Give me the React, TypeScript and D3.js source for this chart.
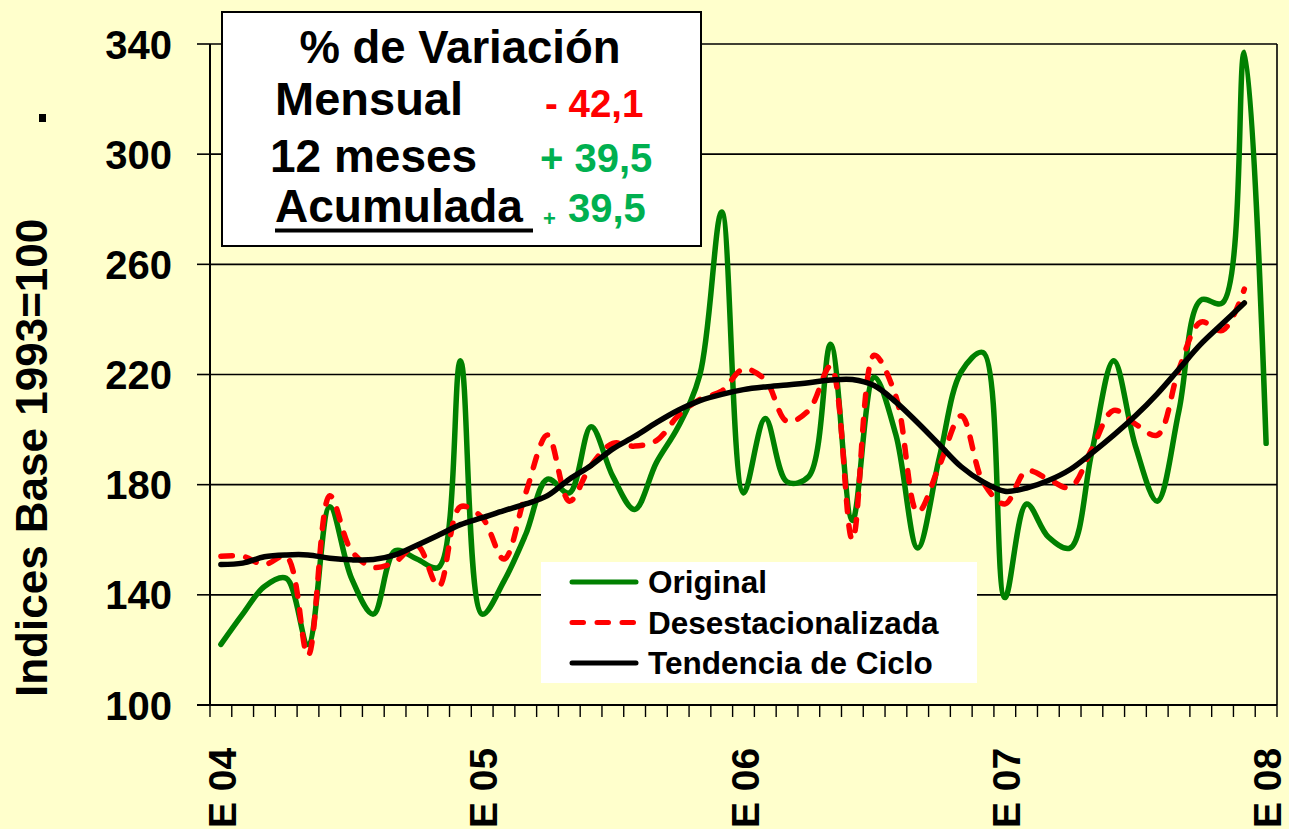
import React from "react";
import * as d3 from "d3";

const months = ["E", "F", "M", "A", "M", "J", "J", "A", "S", "O", "N", "D"];
const years = ["04", "05", "06", "07", "08"];
const categories: string[] = [];
years.forEach((yy, k) => {
  months.forEach((m) => {
    if (k < 4 || m === "E") {
      if (categories.length < 49) categories.push(`${m} ${yy}`);
    }
  });
});

const original = [
  122, 133, 143, 146, 122, 172, 146, 133, 156, 153, 150, 225,
  133, 145, 162, 182, 177, 201, 183, 171, 188, 201, 220, 279,
  177, 204, 181, 183, 231, 167, 219, 198, 157, 190, 221, 228,
  139, 173, 161, 157, 192, 225, 194, 174, 207, 247, 246, 337,
  195,
];
const desestacionalizada = [
  154, 154, 151, 154, 118, 176, 156, 150, 152, 158, 143, 172,
  168, 153, 177, 198, 174, 187, 195, 194, 196, 205, 211, 214,
  222, 218, 203, 207, 223, 160, 227, 212, 170, 187, 205, 181,
  173, 185, 182, 179, 193, 207, 202, 198, 222, 239, 236, 251,
];
const tendencia = [
  151, 151.5, 153.8, 154.5, 154.5, 153.3, 152.7, 152.8, 154.5, 158, 161.7, 165.5,
  168, 170.6, 173, 176, 182, 187, 193, 197.5, 202.5, 207, 210.5, 212.8,
  214.5, 215.5, 216.2, 217, 218, 218.2, 216, 210, 202.5, 194.5, 186.5, 181,
  177.6, 178.8, 181.5, 185.5, 191.5, 198, 205, 213, 222, 231, 238.5, 246,
];
const yTicks = [100, 140, 180, 220, 260, 300, 340];

const boxTitle = "% de Variación";
const boxRows = [
  { label: "Mensual", sign: "-", value: "42,1", color: "#FF0000" },
  { label: "12 meses", sign: "+", value: "39,5", color: "#00B050" },
  { label: "Acumulada", sign: "+", value: "39,5", color: "#00B050" },
];
const legendItems = [
  { name: "Original", color: "#008000", dash: "" },
  { name: "Desestacionalizada", color: "#FF0000", dash: "11.5 13.5" },
  { name: "Tendencia de Ciclo", color: "#000000", dash: "" },
];

const W = 1289;
const H = 829;
const L = 210;
const R = 1277;
const T = 44;
const B = 705;
const FONT = "'Liberation Sans', Arial, Helvetica, sans-serif";

export default function App() {
  const x = d3.scaleBand<number>().domain(d3.range(categories.length)).range([L, R]).padding(0);
  const bw = x.bandwidth();
  const cx = (i: number) => (x(i) as number) + bw / 2;
  const y = d3.scaleLinear().domain([100, 340]).range([B, T]);

  const line = d3
    .line<number>()
    .x((_, i) => cx(i))
    .y((d) => y(d))
    .curve(d3.curveCatmullRom.alpha(0.5));

  const series = [
    { data: original, color: "#008000", dash: "" },
    { data: desestacionalizada, color: "#FF0000", dash: "11.5 13.5" },
    { data: tendencia, color: "#000000", dash: "" },
  ];

  const tickXs = d3.range(categories.length + 1).map((k) => L + k * bw);

  return (
    <svg
      width={W}
      height={H}
      style={{ position: "absolute", left: 0, top: 0, display: "block" }}
      fontFamily={FONT}
      fontWeight="bold"
    >
      <rect x={0} y={0} width={W} height={H} fill="#FFFFCC" />

      {/* gridlines */}
      {yTicks
        .filter((t) => t !== 100)
        .map((t) => (
          <line key={t} x1={L} x2={R} y1={y(t)} y2={y(t)} stroke="#000" strokeWidth={1.6} />
        ))}
      <line x1={R} x2={R} y1={T} y2={B} stroke="#000" strokeWidth={1.6} />

      {/* y axis */}
      <line x1={L} x2={L} y1={T} y2={B} stroke="#000" strokeWidth={2} />
      {yTicks.map((t) => (
        <g key={t}>
          <line x1={L - 13} x2={L} y1={y(t)} y2={y(t)} stroke="#000" strokeWidth={1.6} />
          <text x={172} y={y(t) + 14.5} textAnchor="end" fontSize={40} fill="#000">
            {t}
          </text>
        </g>
      ))}

      {/* x axis */}
      <line x1={L - 13} x2={R} y1={B} y2={B} stroke="#000" strokeWidth={2} />
      {tickXs.map((tx, k) => (
        <line key={k} x1={tx} x2={tx} y1={B} y2={B + 12} stroke="#000" strokeWidth={1.4} />
      ))}
      {categories.map((c, i) =>
        c.startsWith("E ") ? (
          <text
            key={c}
            transform={`translate(${cx(i) + 15},${H - 1}) rotate(-90)`}
            textAnchor="start"
            fontSize={39}
            fill="#000"
          >
            {c}
          </text>
        ) : null
      )}

      {/* y title */}
      <text transform={`translate(47,697) rotate(-90)`} textAnchor="start" fontSize={44} fill="#000">
        Indices Base 1993=100
      </text>
      <rect x={39} y={114} width={7} height={8} fill="#000" />

      {/* series */}
      {series.map((s, k) => (
        <path
          key={k}
          d={line(s.data) as string}
          fill="none"
          stroke={s.color}
          strokeWidth={5.5}
          strokeDasharray={s.dash || undefined}
          strokeLinecap="round"
          strokeLinejoin="round"
        />
      ))}

      {/* variation box */}
      <rect x={222} y={12} width={479} height={234} fill="#FFFFFF" stroke="#000" strokeWidth={2} />
      <text x={460} y={63} textAnchor="middle" fontSize={45.5} fill="#000">
        {boxTitle}
      </text>
      <text x={275} y={115} fontSize={47} fill="#000">
        {boxRows[0].label}
      </text>
      <text x={545} y={117} fontSize={38.5} fill={boxRows[0].color}>
        {`${boxRows[0].sign} ${boxRows[0].value}`}
      </text>
      <text x={270} y={172} fontSize={46} fill="#000">
        {boxRows[1].label}
      </text>
      <text x={540} y={172} fontSize={40} fill={boxRows[1].color}>
        {`${boxRows[1].sign} ${boxRows[1].value}`}
      </text>
      <text x={275} y={222} fontSize={46} fill="#000">
        {boxRows[2].label}
      </text>
      <rect x={275} y={228.5} width={258} height={4} fill="#000" />
      <text x={543} y={226} fontSize={22} fill={boxRows[2].color}>
        {boxRows[2].sign}
      </text>
      <text x={568} y={222} fontSize={40} fill={boxRows[2].color}>
        {boxRows[2].value}
      </text>

      {/* legend */}
      <rect x={541} y={562} width={436} height={121} fill="#FFFFFF" />
      {legendItems.map((it, k) => {
        const ly = 582 + k * 40.5;
        return (
          <g key={it.name}>
            <line
              x1={572}
              x2={636}
              y1={ly}
              y2={ly}
              stroke={it.color}
              strokeWidth={5}
              strokeDasharray={it.dash || undefined}
              strokeLinecap="round"
            />
            <text x={648} y={ly + 11} fontSize={31.5} fill="#000">
              {it.name}
            </text>
          </g>
        );
      })}
    </svg>
  );
}
